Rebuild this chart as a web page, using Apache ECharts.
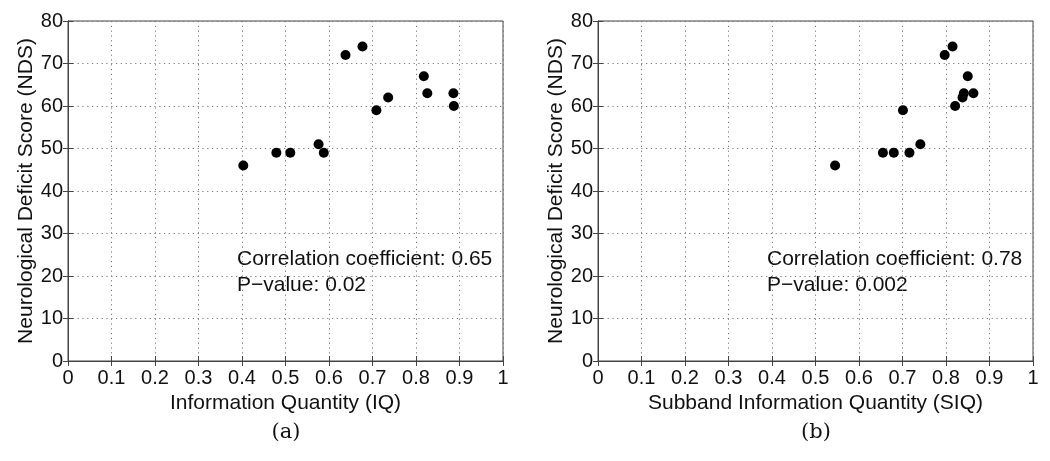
<!DOCTYPE html>
<html>
<head>
<meta charset="utf-8">
<script src="https://cdn.jsdelivr.net/npm/echarts@6/dist/echarts.min.js"></script>
<style>
  html, body { margin: 0; padding: 0; background: #fff; }
  #chart { width: 1050px; height: 461px; }
</style>
</head>
<body>
<div id="chart"></div>
<script>
// data
const iqX = [0.403, 0.479, 0.511, 0.576, 0.588, 0.638, 0.677, 0.709, 0.736, 0.818, 0.826, 0.886, 0.887];
const iqY = [46, 49, 49, 51, 49, 72, 74, 59, 62, 67, 63, 63, 60];
const siqX = [0.545, 0.655, 0.680, 0.716, 0.741, 0.701, 0.797, 0.815, 0.821, 0.838, 0.841, 0.850, 0.863];
const siqY = [46, 49, 49, 49, 51, 59, 72, 74, 60, 62, 63, 67, 63];
const xTicks = ['0', '0.1', '0.2', '0.3', '0.4', '0.5', '0.6', '0.7', '0.8', '0.9', '1'];
const yTicks = [0, 10, 20, 30, 40, 50, 60, 70, 80];
const xNames = ['Information Quantity (IQ)', 'Subband Information Quantity (SIQ)'];
const yName = 'Neurological Deficit Score (NDS)';
const notes = [
  ['Correlation coefficient: 0.65', 'P\u2212value: 0.02'],
  ['Correlation coefficient: 0.78', 'P\u2212value: 0.002']
];
const captions = ['(a)', '(b)'];

const font = 'Liberation Sans, Arial, Helvetica, sans-serif';
const gridLine = { show: true, lineStyle: { color: '#777', width: 1, type: [1.2, 3.6] } };

const grids = [
  { left: 68, right: 547, top: 21, bottom: 100, show: true, borderColor: '#444', borderWidth: 1 },
  { left: 598, right: 17, top: 21, bottom: 100, show: true, borderColor: '#444', borderWidth: 1 }
];

const xAxes = [];
const yAxes = [];
[0, 1].forEach(function (g) {
  xAxes.push({
    type: 'value', gridIndex: g, min: 0, max: 1, interval: 0.1,
    name: xNames[g], nameLocation: 'middle', nameGap: 25,
    nameTextStyle: { fontFamily: font, fontSize: 21, color: '#111' },
    axisLine: { show: true, lineStyle: { color: '#444' } },
    axisTick: { show: true, inside: true, length: 5, lineStyle: { color: '#444' } },
    axisLabel: { fontFamily: font, fontSize: 20, color: '#111', margin: 7,
      formatter: function (v) { return xTicks[Math.round(v * 10)]; } },
    splitLine: gridLine
  });
  // top ticks for the box
  xAxes.push({
    type: 'value', gridIndex: g, min: 0, max: 1, interval: 0.1, position: 'top',
    axisLine: { show: true, lineStyle: { color: '#444' } },
    axisTick: { show: true, inside: true, length: 5, lineStyle: { color: '#444' } },
    axisLabel: { show: false }, splitLine: { show: false }
  });
  yAxes.push({
    type: 'value', gridIndex: g, min: 0, max: 80, interval: 10,
    name: yName, nameLocation: 'middle', nameGap: 30, nameRotate: 90,
    nameTextStyle: { fontFamily: font, fontSize: 21, color: '#111' },
    axisLine: { show: true, lineStyle: { color: '#444' } },
    axisTick: { show: true, inside: true, length: 5, lineStyle: { color: '#444' } },
    axisLabel: { fontFamily: font, fontSize: 20, color: '#111', margin: 5,
      formatter: function (v) { return yTicks[v / 10]; } },
    splitLine: gridLine
  });
  yAxes.push({
    type: 'value', gridIndex: g, min: 0, max: 80, interval: 10, position: 'right',
    axisLine: { show: true, lineStyle: { color: '#444' } },
    axisTick: { show: true, inside: true, length: 5, lineStyle: { color: '#444' } },
    axisLabel: { show: false }, splitLine: { show: false }
  });
});

function pairs(xs, ys) {
  return xs.map(function (x, i) { return [x, ys[i]]; });
}

const series = [
  { type: 'scatter', xAxisIndex: 0, yAxisIndex: 0, data: pairs(iqX, iqY),
    symbolSize: 10, itemStyle: { color: '#000', opacity: 1 } },
  { type: 'scatter', xAxisIndex: 2, yAxisIndex: 2, data: pairs(siqX, siqY),
    symbolSize: 10, itemStyle: { color: '#000', opacity: 1 } }
];

const graphic = [];
const noteLeft = [237, 767];
const capCenter = [286, 816];
[0, 1].forEach(function (g) {
  graphic.push({
    type: 'text', left: noteLeft[g], top: 246,
    style: { text: notes[g].join('\n'), font: '21px ' + font, fill: '#111', lineHeight: 26 }
  });
  graphic.push({
    type: 'text', x: capCenter[g], y: 433,
    style: { text: captions[g], font: '21px "DejaVu Serif", "Liberation Serif", serif', fill: '#111',
      align: 'center', verticalAlign: 'middle' }
  });
});

const myChart = echarts.init(document.getElementById('chart'));
myChart.setOption({
  animation: false,
  backgroundColor: '#fff',
  grid: grids,
  xAxis: xAxes,
  yAxis: yAxes,
  series: series,
  graphic: graphic
});
</script>
</body>
</html>
